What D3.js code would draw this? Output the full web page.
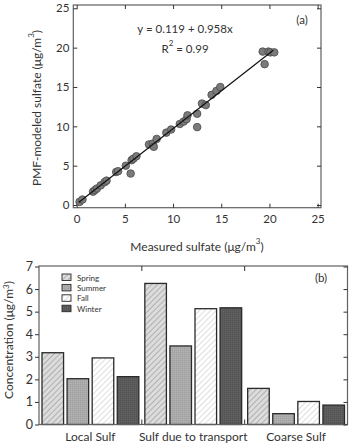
<!DOCTYPE html>
<html><head><meta charset="utf-8">
<script src="https://cdn.jsdelivr.net/npm/d3@7"></script>
<style>body{margin:0;background:#fff;}svg{display:block;font-family:Lato,"Open Sans",sans-serif;}</style>
</head><body><svg id="c" width="352" height="448"></svg>
<script>
// ---- Panel (a) data ----
const measured = [0.3,0.6,1.7,1.9,2.1,2.5,2.9,3.1,4.1,4.3,5.1,5.6,5.7,5.9,6.2,7.5,7.9,8.0,8.3,9.3,9.8,10.7,11.1,11.4,11.5,12.5,12.5,13.0,13.4,14.0,14.5,14.9,19.3,19.5,19.9,20.1,20.5];
const modeled  = [0.4,0.7,1.7,1.9,2.1,2.5,2.9,3.1,4.2,4.3,5.0,4.0,5.7,5.9,6.2,7.7,7.8,7.4,8.4,9.2,9.6,10.3,10.6,10.9,11.4,11.6,9.9,12.9,12.7,14.0,14.5,15.0,19.5,17.9,19.5,19.4,19.4];
const fitIntercept = 0.119, fitSlope = 0.958;
const fitRange = [0.2, 20.4];
const axisTicksA = [0,5,10,15,20,25];
// ---- Panel (b) data ----
const categories = ["Local Sulf","Sulf due to transport","Coarse Sulf"];
const seasons = ["Spring","Summer","Fall","Winter"];
const spring = [3.18,6.25,1.60];
const summer = [2.03,3.48,0.48];
const fall   = [2.95,5.13,1.02];
const winter = [2.12,5.17,0.86];
const ticksB = [0,1,2,3,4,5,6,7];

const svg = d3.select("#c");
const txt = "#333";
const frameCol = "#606060";

// patterns
const defs = svg.append("defs");
function hatch(id, bg, line, w){
  const p = defs.append("pattern").attr("id",id).attr("patternUnits","userSpaceOnUse")
    .attr("width",4).attr("height",4).attr("patternTransform","rotate(45)");
  p.append("rect").attr("width",4).attr("height",4).attr("fill",bg);
  p.append("line").attr("x1",0).attr("y1",0).attr("x2",0).attr("y2",4).attr("stroke",line).attr("stroke-width",w);
}
function grid(id, bg, line){
  const p = defs.append("pattern").attr("id",id).attr("patternUnits","userSpaceOnUse")
    .attr("width",2).attr("height",2);
  p.append("rect").attr("width",2).attr("height",2).attr("fill",bg);
  p.append("path").attr("d","M0,0.5H2M0.5,0V2").attr("stroke",line).attr("stroke-width",0.5);
}
hatch("pSpring","#dcdcdc","#a5a5a5",1.6);
grid("pSummer","#b4b4b4","#9c9c9c");
hatch("pFall","#ffffff","#d0d0d0",1.4);
grid("pWinter","#636363","#4e4e4e");
const fills = ["url(#pSpring)","url(#pSummer)","url(#pFall)","url(#pWinter)"];

// ---------- Panel (a) ----------
const A = {l:73.3, r:321, t:5, b:207.7};
const x = d3.scaleLinear().domain([-0.35,25.35]).range([A.l,A.r]);
const y = d3.scaleLinear().domain([-0.34,25.42]).range([A.b,A.t]);
const ga = svg.append("g");
ga.append("rect").attr("x",A.l).attr("y",A.t).attr("width",A.r-A.l).attr("height",A.b-A.t)
  .attr("fill","none").attr("stroke",frameCol).attr("stroke-width",1.2);
const tl = 4;
const fmt = d3.format("d");
ga.append("g").attr("transform",`translate(0,${A.b})`)
  .call(d3.axisBottom(x).tickValues(axisTicksA).tickFormat(fmt).tickSizeInner(-tl).tickSizeOuter(0).tickPadding(7))
  .call(g=>{g.select(".domain").remove();g.selectAll("line").attr("stroke","#333");g.selectAll("text").attr("fill",txt).attr("font-size",11.5).attr("font-family","Lato");});
ga.append("g").attr("transform",`translate(0,${A.t})`)
  .call(d3.axisTop(x).tickValues(axisTicksA).tickSizeInner(-tl).tickSizeOuter(0).tickFormat(""))
  .call(g=>{g.select(".domain").remove();g.selectAll("line").attr("stroke","#333");});
ga.append("g").attr("transform",`translate(${A.l},0)`)
  .call(d3.axisLeft(y).tickValues(axisTicksA).tickFormat(fmt).tickSizeInner(-tl).tickSizeOuter(0).tickPadding(4))
  .call(g=>{g.select(".domain").remove();g.selectAll("line").attr("stroke","#333");g.selectAll("text").attr("fill",txt).attr("font-size",11.5).attr("font-family","Lato");});
ga.append("g").attr("transform",`translate(${A.r},0)`)
  .call(d3.axisRight(y).tickValues(axisTicksA).tickSizeInner(-tl).tickSizeOuter(0).tickFormat(""))
  .call(g=>{g.select(".domain").remove();g.selectAll("line").attr("stroke","#333");});

ga.selectAll("circle.pt").data(measured.map((m,i)=>[m,modeled[i]])).join("circle").attr("class","pt")
  .attr("cx",d=>x(d[0])).attr("cy",d=>y(d[1])).attr("r",3.8)
  .attr("fill","#7a7a7a").attr("stroke","#4a4a4a").attr("stroke-width",0.8);
ga.append("line").attr("x1",x(fitRange[0])).attr("y1",y(fitIntercept+fitSlope*fitRange[0]))
  .attr("x2",x(fitRange[1])).attr("y2",y(fitIntercept+fitSlope*fitRange[1]))
  .attr("stroke","#111").attr("stroke-width",1.2);

ga.append("text").attr("x",185).attr("y",33).attr("text-anchor","middle").attr("font-size",11.5).attr("fill",txt)
  .text("y = 0.119 + 0.958x");
const r2 = ga.append("text").attr("x",185).attr("y",53).attr("text-anchor","middle").attr("font-size",11.5).attr("fill",txt);
r2.append("tspan").text("R");
r2.append("tspan").attr("dy",-7).attr("font-size",8).text("2");
r2.append("tspan").attr("dy",7).text(" = 0.99");
ga.append("text").attr("x",302).attr("y",24).attr("text-anchor","middle").attr("font-size",11.5).attr("fill",txt).text("(a)");

function unitTitle(sel, label, rise){
  sel.append("tspan").text(label+" (μg/m");
  sel.append("tspan").attr("dy",-rise).attr("font-size",8).text("3");
  sel.append("tspan").attr("dy",rise).text(")");
}
const ya = ga.append("text").attr("transform","translate(41,108) rotate(-90)").attr("text-anchor","middle")
  .attr("font-size",12).attr("fill",txt);
unitTitle(ya,"PMF-modeled sulfate",7);
const xa = ga.append("text").attr("x",197).attr("y",251).attr("text-anchor","middle").attr("font-size",12).attr("fill",txt);
unitTitle(xa,"Measured sulfate",7);

// ---------- Panel (b) ----------
const B = {l:39, r:347.5, t:266, b:424.5};
const xb = d3.scaleBand().domain(categories).range([B.l,B.r]).padding(0);
const xs = d3.scaleBand().domain(seasons).range([3, xb.bandwidth()-3]).paddingInner(0.14).paddingOuter(0);
const yb = d3.scaleLinear().domain([0,7]).range([B.b, B.t+0.5]);
const gb = svg.append("g");
const series = [spring,summer,fall,winter];
const barData = [];
categories.forEach((c,ci)=>seasons.forEach((s,si)=>barData.push({c,s,si,v:series[si][ci]})));
gb.selectAll("rect.bar").data(barData).join("rect").attr("class","bar")
  .attr("x",d=>xb(d.c)+xs(d.s)).attr("width",xs.bandwidth())
  .attr("y",d=>yb(d.v)).attr("height",d=>yb(0)-yb(d.v))
  .attr("fill",d=>fills[d.si]).attr("stroke","#2a2a2a").attr("stroke-width",1.3);

gb.append("rect").attr("x",B.l).attr("y",B.t).attr("width",B.r-B.l).attr("height",B.b-B.t)
  .attr("fill","none").attr("stroke",frameCol).attr("stroke-width",1.2);
gb.append("g").attr("transform",`translate(${B.l},0)`)
  .call(d3.axisLeft(yb).tickValues(ticksB).tickFormat(fmt).tickSize(4).tickPadding(2))
  .call(g=>{g.select(".domain").remove();g.selectAll("line").attr("stroke","#333");g.selectAll("text").attr("fill",txt).attr("font-size",12.5).attr("font-family","Lato");});
gb.append("g").attr("transform",`translate(${B.r},0)`)
  .call(d3.axisRight(yb).tickValues(ticksB).tickSize(-4).tickFormat(""))
  .call(g=>{g.select(".domain").remove();g.selectAll("line").attr("stroke","#333");});
const seps = [xb(categories[1]), xb(categories[2])];
gb.selectAll("line.sepT").data(seps).join("line").attr("class","sepT")
  .attr("x1",d=>d).attr("x2",d=>d).attr("y1",B.t).attr("y2",B.t+5).attr("stroke","#333");
gb.selectAll("line.sepB").data(seps).join("line").attr("class","sepB")
  .attr("x1",d=>d).attr("x2",d=>d).attr("y1",B.b).attr("y2",B.b-5).attr("stroke","#333");
gb.selectAll("text.cat").data(categories).join("text").attr("class","cat")
  .attr("x",d=>xb(d)+xb.bandwidth()/2).attr("y",441).attr("text-anchor","middle")
  .attr("font-size",12).attr("fill",txt).text(d=>d);

// legend
const lg = gb.append("g").attr("transform","translate(62,274)");
seasons.forEach((s,i)=>{
  lg.append("rect").attr("x",0).attr("y",i*10.4).attr("width",9).attr("height",6.5)
    .attr("fill",fills[i]).attr("stroke","#2a2a2a").attr("stroke-width",0.9);
  lg.append("text").attr("x",15).attr("y",i*10.4+6.5).attr("font-size",8).attr("fill",txt).text(s);
});
gb.append("text").attr("x",321).attr("y",282).attr("text-anchor","middle").attr("font-size",11.5).attr("fill",txt).text("(b)");
const yt = gb.append("text").attr("transform","translate(13,340) rotate(-90)").attr("text-anchor","middle")
  .attr("font-size",12).attr("fill",txt);
unitTitle(yt,"Concentration",4);
</script></body></html>
